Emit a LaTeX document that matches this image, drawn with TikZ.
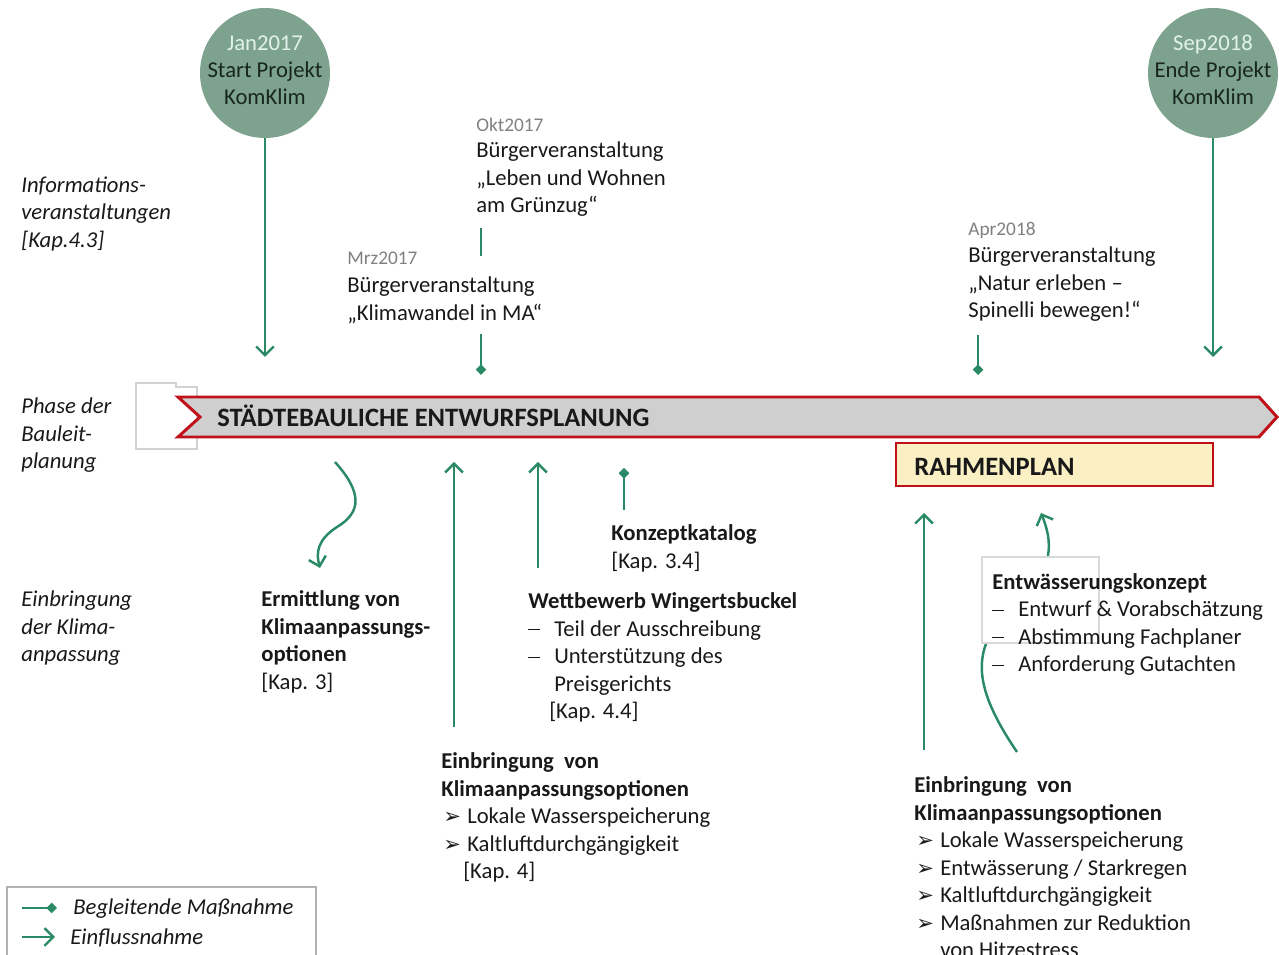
\documentclass[tikz,border=0pt]{standalone}
\usepackage{fontspec}
\setmainfont{Carlito}
\newfontfamily\djv{DejaVu Sans}
\usetikzlibrary{arrows.meta}
\newlength\px \setlength\px{0.5669pt}
\newcommand\fsn{\fontsize{12.9}{15.6}\selectfont}
\newcommand\fsd{\fontsize{11}{13}\selectfont}
\newcommand\fsb{\fontsize{15.1}{17}\selectfont\bfseries}
\newcommand\tl[1]{\begin{tabular}[t]{@{}l@{}}#1\end{tabular}}
\newcommand\bul{\makebox[24\px][l]{\djv\fontsize{12}{12}\selectfont ➢}}
\newcommand\dsh{\makebox[26\px][l]{\rule[0.27em]{12\px}{0.55pt}}}
\definecolor{arrg}{HTML}{2A8A66}
\definecolor{circ}{HTML}{7DA38F}
\definecolor{circt}{HTML}{E2F2EA}
\definecolor{circd}{HTML}{18261F}
\definecolor{datec}{HTML}{808080}
\definecolor{redb}{HTML}{C0101A}
\definecolor{yel}{HTML}{FBEFC4}
\tikzset{
  txt/.style={anchor=base west, inner sep=0pt, font=\fsn, text=black!90},
  datetxt/.style={anchor=base west, inner sep=0pt, font=\fsd, text=datec},
  lbl/.style={anchor=base west, inner sep=0pt, font=\fsn\itshape, text=black!90},
  milestone/.style={circle, fill=circ, minimum size=2.6cm, inner sep=0pt},
  mstext/.style={inner sep=0pt, font=\fsn, text=circd},
  arr/.style={draw=arrg, line width=1.4pt, -{Straight Barb[length=5pt,width=10pt,line width=1.4pt]}},
  dia/.style={draw=arrg, line width=1.4pt, -{Diamond[length=6pt,width=6pt]}, arrg},
}
\begin{document}
\begin{tikzpicture}[x=0.02cm,y=-0.02cm]
\useasboundingbox (0,0) rectangle (1279,955);
\clip (0,0) rectangle (1279,955);

% milestones
\node[milestone] (start) at (265,73) {};
\node[mstext] (starttxt) at (265,72) {\begin{tabular}{@{}c@{}}\textcolor{circt}{Jan2017}\\Start Projekt\\KomKlim\end{tabular}};
\node[milestone] (ende) at (1213,73) {};
\node[mstext] (endetxt) at (1213,72) {\begin{tabular}{@{}c@{}}\textcolor{circt}{Sep2018}\\Ende Projekt\\KomKlim\end{tabular}};
\coordinate (s1) at (265,357);
\coordinate (e1) at (1213,357);
\draw[arr] (start) -- (s1);
\draw[arr] (ende) -- (e1);

% left labels
\node[lbl] (info) at (21,192.5) {\tl{Informations-\\veranstaltungen\\{}[Kap.4.3]}};
\node[lbl] (phase) at (21,414) {\tl{Phase der\\Bauleit-\\planung}};
\node[lbl] (einbl) at (21,607) {\tl{Einbringung\\der Klima-\\anpassung}};

% events
\coordinate (okttop) at (481,228);
\coordinate (oktend) at (481,375);
\draw[dia] (okttop) -- (oktend);
\fill[white] (345,256) rectangle (548,334);
\node[datetxt] (oktd) at (476,132) {Okt2017};
\node[txt] (okt) at (476,158) {\tl{Bürgerveranstaltung\\„Leben und Wohnen\\am Grünzug“}};
\node[datetxt] (mrzd) at (347,265) {Mrz2017};
\node[txt] (mrz) at (347,293) {\tl{Bürgerveranstaltung\\„Klimawandel in MA“}};
\node[datetxt] (aprd) at (968,235.5) {Apr2018};
\node[txt] (apr) at (968,263) {\tl{Bürgerveranstaltung\\„Natur erleben –\\Spinelli bewegen!“}};
\coordinate (aprtop) at (978,335);
\coordinate (aprend) at (978,375);
\draw[dia] (aprtop) -- (aprend);

% placeholder box at left of banner
\draw[gray!35, line width=0.6pt, fill=white] (136,383) -- (176,383) -- (176,387) -- (197,387) -- (197,449) -- (136,449) -- cycle;

% banner
\draw[redb, line width=1.7pt, fill=black!19] (178,397) -- (1259,397) -- (1277,417) -- (1259,437) -- (178,437) -- (200,417) -- cycle;
\node[anchor=base west, inner sep=0pt, font=\fsb, text=black!90] (banner) at (217,426.5) {STÄDTEBAULICHE ENTWURFSPLANUNG};

% Rahmenplan
\draw[redb, line width=1.4pt, fill=yel] (896,443) rectangle (1213,486);
\node[anchor=base west, inner sep=0pt, font=\fsb, text=black!90] (rahmen) at (914,475.5) {RAHMENPLAN};

% lower texts
\node[txt] (konz) at (611,541) {\tl{\textbf{Konzeptkatalog}\\{}[Kap. 3.4]}};
\coordinate (konzb) at (624,510);
\coordinate (konzt) at (624,468);
\draw[dia] (konzb) -- (konzt);

\node[txt] (ermit) at (261,607) {\tl{\textbf{Ermittlung von}\\\textbf{Klimaanpassungs-}\\\textbf{optionen}\\{}[Kap. 3]}};
\coordinate (ermt) at (335,462);
\coordinate (ermb) at (320,568);
\draw[arr] (ermt) .. controls (362,492) and (362,512) .. (337,527) .. controls (317,540) and (316,553) .. (ermb);

\node[txt] (wett) at (528,609) {\tl{\textbf{Wettbewerb Wingertsbuckel}\\\dsh Teil der Ausschreibung\\\dsh Unterstützung des\\\hspace{26\px}Preisgerichts\\\hspace{21\px}[Kap. 4.4]}};
\coordinate (wettb) at (538,568);
\coordinate (wettt) at (538,462);
\draw[arr] (wettb) -- (wettt);

\node[txt] (einb1) at (441,769) {\tl{\textbf{Einbringung\ \ von}\\\textbf{Klimaanpassungsoptionen}\\\hspace{2\px}\bul Lokale Wasserspeicherung\\\hspace{2\px}\bul Kaltluftdurchgängigkeit\\\hspace{22\px}[Kap. 4]}};
\coordinate (einb1b) at (454,727);
\coordinate (einb1t) at (454,462);
\draw[arr] (einb1b) -- (einb1t);

\node[txt] (einb2) at (914,793) {\tl{\textbf{Einbringung\ \ von}\\\textbf{Klimaanpassungsoptionen}\\\hspace{2\px}\bul Lokale Wasserspeicherung\\\hspace{2\px}\bul Entwässerung / Starkregen\\\hspace{2\px}\bul Kaltluftdurchgängigkeit\\\hspace{2\px}\bul Maßnahmen zur Reduktion\\\hspace{26\px}von Hitzestress}};
\coordinate (einb2b) at (924,750);
\coordinate (einb2t) at (924,513);
\draw[arr] (einb2b) -- (einb2t);

% Entwaesserungskonzept
\coordinate (entb) at (1017,752);
\coordinate (entt) at (1041,513);
\draw[arr] (entb) .. controls (975,690) and (968,650) .. (1010,610) .. controls (1050,575) and (1056,550) .. (entt);
\draw[gray!30, line width=0.6pt, fill=white] (982,557) rectangle (1099,643);
\node[txt] (entw) at (992,589.5) {\tl{\textbf{Entwässerungskonzept}\\\dsh Entwurf \& Vorabschätzung\\\dsh Abstimmung Fachplaner\\\dsh Anforderung Gutachten}};

% legend
\draw[gray!60, line width=0.8pt] (7,970) -- (7,887) -- (316,887) -- (316,970);
\coordinate (l1a) at (22,908);
\coordinate (l1b) at (57,908);
\coordinate (l2a) at (22,937);
\coordinate (l2b) at (55,937);
\draw[dia] (l1a) -- (l1b);
\draw[arr] (l2a) -- (l2b);
\node[lbl] (leg1) at (73,915) {Begleitende Maßnahme};
\node[lbl] (leg2) at (70,944.5) {Einflussnahme};
\end{tikzpicture}
\end{document}
